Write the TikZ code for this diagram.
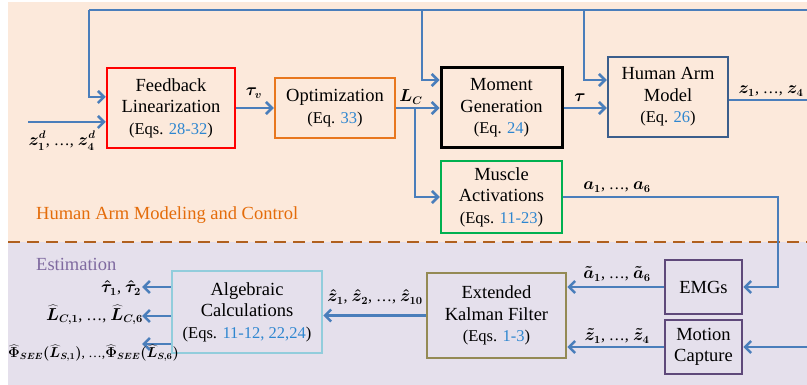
\documentclass[tikz,border=0pt]{standalone}
\usepackage{fontspec}
\setmainfont{Liberation Serif}
\usetikzlibrary{arrows.meta}
\definecolor{peach}{HTML}{FCE9DB}
\definecolor{lav}{HTML}{E5E0EC}
\definecolor{arrblue}{HTML}{4A7EBB}
\definecolor{eqblue}{HTML}{2E86D0}
\definecolor{fbred}{HTML}{FF0000}
\definecolor{optorange}{HTML}{E8771E}
\definecolor{hamblue}{HTML}{3B5E8C}
\definecolor{magreen}{HTML}{00B050}
\definecolor{emgpurple}{HTML}{5F497A}
\definecolor{ekfolive}{HTML}{948A54}
\definecolor{aclight}{HTML}{92CDDC}
\definecolor{dashbrown}{HTML}{B0601E}
\definecolor{titleorange}{HTML}{E46C0A}
\definecolor{titlepurple}{HTML}{7F6AA0}
\newcommand\eqf{\fontsize{16.5}{20}\selectfont}
\newcommand\eqn[1]{\textcolor{eqblue}{#1}}
\begin{document}
\begin{tikzpicture}[x=1pt,y=-1pt,
  bx/.style={draw, line width=2.5pt, align=center, inner sep=0pt,
    font=\fontsize{18.5}{21.5}\selectfont},
  ln/.style={draw=arrblue, line width=2.6pt},
  arr/.style={draw=arrblue, line width=2.6pt, -{Straight Barb[length=6pt,width=12pt]}},
  lbl/.style={inner sep=0pt, font=\fontsize{16}{18}\selectfont\boldmath},
  ttl/.style={inner sep=0pt, anchor=west, font=\fontsize{18.5}{21}\selectfont}]
\useasboundingbox (0,0) rectangle (807,385);
\fill[peach] (8,2) rectangle (807,242);
\fill[lav] (8,242) rectangle (807,385);
\draw[dashbrown, line width=2.8pt, dash pattern=on 12pt off 7pt] (8,242) -- (807,242);

\node[ttl, text=titleorange] (t1) at (36,215) {Human Arm Modeling and Control};
\node[ttl, text=titlepurple] (t2) at (36,264) {Estimation};

% boxes
\node[bx, draw=fbred, minimum width=128pt, minimum height=80pt] (FL) at (171,108)
  {Feedback\\Linearization\\\eqf(Eqs. \eqn{28-32})};
\node[bx, draw=optorange, minimum width=120pt, minimum height=60pt] (OPT) at (335,108)
  {Optimization\\\eqf(Eq. \eqn{33})};
\node[bx, draw=black, line width=3pt, minimum width=121pt, minimum height=80pt] (MG) at (501.5,108)
  {Moment\\Generation\\\eqf(Eq. \eqn{24})};
\node[bx, draw=hamblue, minimum width=120pt, minimum height=80pt] (HAM) at (668,97)
  {Human Arm\\Model\\\eqf(Eq. \eqn{26})};
\node[bx, draw=magreen, minimum width=121pt, minimum height=72pt] (MA) at (501.5,197)
  {Muscle\\Activations\\\eqf(Eqs. \eqn{11-23})};
\node[bx, draw=emgpurple, minimum width=77pt, minimum height=54pt] (EMG) at (703.5,287)
  {EMGs};
\node[bx, draw=emgpurple, minimum width=77pt, minimum height=54pt] (MC) at (703.5,347)
  {Motion\\Capture};
\node[bx, draw=ekfolive, minimum width=139pt, minimum height=85pt] (EKF) at (496.5,315.5)
  {Extended\\Kalman Filter\\\eqf(Eqs. \eqn{1-3})};
\node[bx, draw=aclight, minimum width=150pt, minimum height=82pt] (AC) at (247,312)
  {Algebraic\\Calculations\\\eqf(Eqs. \eqn{11-12, 22,24})};

% coordinates
\coordinate (topR) at (807,10);
\coordinate (topL) at (89,10);
\coordinate (tapMG) at (422,10);
\coordinate (tapHAM) at (584,10);
\coordinate (inL) at (28,122);
\coordinate (br) at (415,108);
\coordinate (outR) at (807,100);
\coordinate (maR) at (778,197);
\coordinate (mcR) at (807,347);
\coordinate (o1) at (142,287);
\coordinate (o2) at (142,316);
\coordinate (o3) at (142,344);

% connectors
\draw[ln] (topR) -- (topL);
\draw[arr] (topL) |- (FL.west |- 0,97);
\draw[arr] (tapMG) |- (MG.west |- 0,80);
\draw[arr] (tapHAM) |- (HAM.west |- 0,80);
\draw[arr] (inL) -- (FL.west |- inL);
\draw[arr] (FL.east) -- (OPT.west);
\draw[arr] (OPT.east) -- (MG.west);
\draw[arr] (br) |- (MA.west);
\draw[arr] (MG.east) -- (HAM.west |- MG.east);
\draw[ln] (HAM.east |- outR) -- (outR);
\draw[arr] (MA.east) -- (maR) |- (EMG.east);
\draw[arr] (mcR) -- (MC.east);
\draw[arr] (EMG.west) -- (EKF.east |- EMG.west);
\draw[arr] (MC.west) -- (EKF.east |- MC.west);
\draw[arr] (EKF.west) -- (AC.east |- EKF.west);
\draw[arr] (AC.west |- o1) -- (o1);
\draw[arr] (AC.west |- o2) -- (o2);
\draw[arr] (AC.west |- o3) -- (o3);

% labels
\node[lbl] (lzd) at (62,141) {$z_1^d$, \dots, $z_4^d$};
\node[lbl] (ltv) at (254,93) {$\tau_v$};
\node[lbl] (llc) at (411,97) {$L_C$};
\node[lbl] (ltau) at (580,98) {$\tau$};
\node[lbl] (lz) at (771,91) {$z_1$, \dots, $z_4$};
\node[lbl] (la) at (617,187) {$a_1$, \dots, $a_6$};
\node[lbl] (lat) at (617,274) {$\tilde a_1$, \dots, $\tilde a_6$};
\node[lbl] (lzt) at (617,336) {$\tilde z_1$, \dots, $\tilde z_4$};
\node[lbl] (lzh) at (375,297) {$\hat z_1$, $\hat z_2$, \dots, $\hat z_{10}$};
\node[lbl, anchor=east] (lth) at (141,288) {$\hat\tau_1$, $\hat\tau_2$};
\node[lbl, anchor=east] (llh) at (143,315) {$\widehat L_{C,1}$, \dots, $\widehat L_{C,6}$};
\node[lbl, anchor=west, font=\fontsize{13.5}{16}\selectfont\boldmath] (lph) at (8,353) {$\widehat\Phi_{SEE}(\widehat L_{S,1})$, \dots,$\widehat\Phi_{SEE}(\widehat L_{S,6})$};
\end{tikzpicture}
\end{document}
